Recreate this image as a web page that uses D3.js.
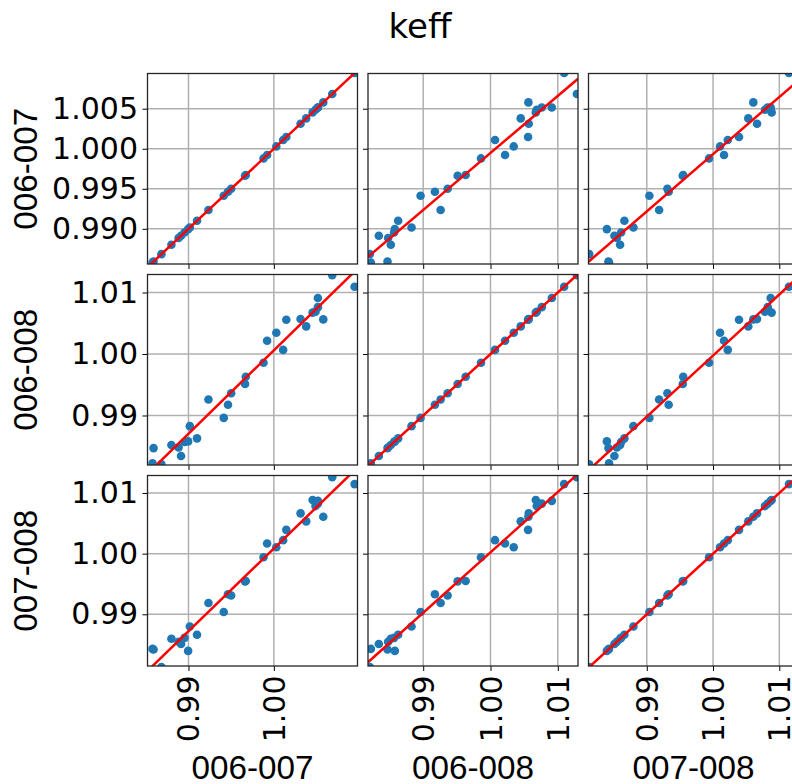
<html>
<head>
	<script src="https://d3js.org/d3.v7.min.js"></script>
	<style>
		body { margin: 0; background: #fff; }
		text { font-family: "DejaVu Sans", sans-serif; fill: #000; }
	</style>
</head>
<body>
	<script>
		// keff for each case (one entry per case)
		var names = ["006-007", "006-008", "007-008"];
		var keff0607 = [0.98683, 0.98579, 0.98913, 0.98591, 0.98884, 0.98800, 0.98954, 0.98996, 0.99100, 0.99016,
			0.99413, 0.99463, 0.99234, 0.99500, 0.99663, 0.99671, 0.99879, 1.00109, 0.99921, 1.00029,
			1.00379, 1.00579, 1.00313, 1.00146, 1.00454, 1.00488, 1.00516, 1.00516, 1.00946, 1.00684];
		var keff0608 = [0.98207, 0.98222, 0.98341, 0.98470, 0.98479, 0.98519, 0.98568, 0.98579, 0.98628, 0.98827,
			0.98961, 0.99174, 0.99259, 0.99363, 0.99512, 0.99631, 0.99859, 1.00067, 1.00216, 1.00345,
			1.00449, 1.00563, 1.00568, 1.00558, 1.00673, 1.00687, 1.00762, 1.00911, 1.01094, 1.01283];
		var keff0708 = [0.98130, 0.98430, 0.98511, 0.98421, 0.98548, 0.98597, 0.98612, 0.98397, 0.98662, 0.98798,
			0.99039, 0.99330, 0.99186, 0.99311, 0.99543, 0.99550, 0.99940, 1.00222, 1.00166, 1.00106,
			1.00532, 1.00608, 1.00664, 1.00392, 1.00885, 1.00784, 1.00825, 1.00870, 1.01146, 1.01260];
		var series = [keff0607, keff0608, keff0708];

		// axis limits and ticks
		var xLimits = [[0.9852, 1.0098], [0.9818, 1.0130], [0.9812, 1.0129]];
		var yLimits = [[0.9856, 1.0094], [0.98195, 1.01293], [0.98148, 1.01288]];
		var xTicks = [[0.99, 1.00], [0.99, 1.00, 1.01], [0.99, 1.00, 1.01]];
		var yTicks = [[0.990, 0.995, 1.000, 1.005], [0.99, 1.00, 1.01], [0.99, 1.00, 1.01]];
		var yFormats = [".3f", ".2f", ".2f"];

		var outerWidth = 792;
		var outerHeight = 784;
		var marginLeft = 147.5;
		var marginTop = 73.5;
		var panelW = 210;
		var panelH = 190.5;
		var gap = 10.5;

		var svg = d3.select("body").append("svg")
			.attr("width", outerWidth)
			.attr("height", outerHeight);

		svg.append("text")
			.attr("x", 420)
			.attr("y", 38)
			.attr("text-anchor", "middle")
			.style("font-size", "34px")
			.text("keff");

		var defs = svg.append("defs");
		defs.append("clipPath").attr("id", "panelClip")
			.append("rect").attr("width", panelW).attr("height", panelH);

		function fit(xs, ys) {
			var mx = d3.mean(xs), my = d3.mean(ys);
			var sxy = d3.sum(xs, function(d, i) { return (d - mx) * (ys[i] - my); });
			var sxx = d3.sum(xs, function(d) { return (d - mx) * (d - mx); });
			var slope = sxy / sxx;
			return { slope: slope, intercept: my - slope * mx };
		}

		for (var r = 0; r < 3; r++) {
			for (var c = 0; c < 3; c++) {
				var g = svg.append("g")
					.attr("transform", "translate(" + (marginLeft + c * (panelW + gap)) + "," + (marginTop + r * (panelH + gap)) + ")");

				var xScale = d3.scaleLinear().domain(xLimits[c]).range([0, panelW]);
				var yScale = d3.scaleLinear().domain(yLimits[r]).range([panelH, 0]);

				// grid
				g.append("g").selectAll("line").data(xTicks[c]).enter().append("line")
					.attr("x1", function(d) { return xScale(d); })
					.attr("x2", function(d) { return xScale(d); })
					.attr("y1", 0).attr("y2", panelH)
					.attr("stroke", "#b0b0b0").attr("stroke-width", 1.5);
				g.append("g").selectAll("line").data(yTicks[r]).enter().append("line")
					.attr("y1", function(d) { return yScale(d); })
					.attr("y2", function(d) { return yScale(d); })
					.attr("x1", 0).attr("x2", panelW)
					.attr("stroke", "#b0b0b0").attr("stroke-width", 1.5);

				// axes
				var yAxis = d3.axisLeft(yScale).tickValues(yTicks[r]).tickSize(5).tickPadding(4.5)
					.tickFormat(c == 0 ? d3.format(yFormats[r]) : "");
				var yAxisG = g.append("g").call(yAxis);
				yAxisG.select(".domain").remove();
				yAxisG.selectAll("text").style("font-size", "30px").attr("font-family", null);

				var xAxis = d3.axisBottom(xScale).tickValues(xTicks[c]).tickSize(5).tickPadding(4.5)
					.tickFormat(r == 2 ? d3.format(".2f") : "");
				var xAxisG = g.append("g").attr("transform", "translate(0," + panelH + ")").call(xAxis);
				xAxisG.select(".domain").remove();
				xAxisG.selectAll("text")
					.style("font-size", "30px").attr("font-family", null)
					.attr("transform", "rotate(-90)")
					.attr("text-anchor", "end")
					.attr("x", -9.5).attr("y", 0).attr("dy", "0.35em");

				// points and fitted line
				var xs = series[c], ys = series[r];
				var plot = g.append("g").attr("clip-path", "url(#panelClip)");
				plot.selectAll("circle").data(xs).enter().append("circle")
					.attr("cx", function(d) { return xScale(d); })
					.attr("cy", function(d, i) { return yScale(ys[i]); })
					.attr("r", 4.3)
					.attr("fill", "#1f77b4");

				var f = fit(xs, ys);
				plot.append("line")
					.attr("x1", xScale(xLimits[c][0]))
					.attr("y1", yScale(f.intercept + f.slope * xLimits[c][0]))
					.attr("x2", xScale(xLimits[c][1]))
					.attr("y2", yScale(f.intercept + f.slope * xLimits[c][1]))
					.attr("stroke", "#ff0000").attr("stroke-width", 2.5);

				g.append("rect")
					.attr("width", panelW).attr("height", panelH)
					.attr("fill", "none").attr("stroke", "#262626").attr("stroke-width", 1.3);

				// axis labels
				if (c == 0) {
					var cy = marginTop + r * (panelH + gap) + panelH / 2;
					svg.append("text")
						.attr("transform", "translate(37," + cy + ") rotate(-90)")
						.attr("text-anchor", "middle")
						.attr("textLength", 122).attr("lengthAdjust", "spacingAndGlyphs")
						.style("font-family", "'Liberation Sans Narrow', 'Liberation Sans', sans-serif")
						.style("font-size", "33px")
						.text(names[r]);
				}
				if (r == 2) {
					var cx = marginLeft + c * (panelW + gap) + panelW / 2;
					svg.append("text")
						.attr("x", cx).attr("y", 779)
						.attr("text-anchor", "middle")
						.attr("textLength", 122).attr("lengthAdjust", "spacingAndGlyphs")
						.style("font-family", "'Liberation Sans Narrow', 'Liberation Sans', sans-serif")
						.style("font-size", "33px")
						.text(names[c]);
				}
			}
		}
	</script>
</body>
</html>
